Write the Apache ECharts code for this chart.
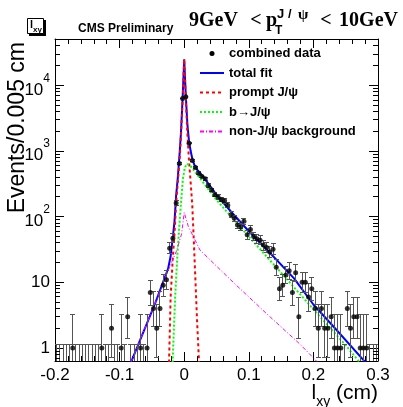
<!DOCTYPE html>
<html>
<head>
<meta charset="utf-8">
<script src="https://cdn.jsdelivr.net/npm/echarts@6/dist/echarts.min.js"></script>
<style>
  html, body { margin: 0; padding: 0; background: #fff; }
  #chart { width: 403px; height: 407px; }
</style>
</head>
<body>
<div id="chart"></div>
<script>
// Binning of the l_xy histogram (cm)
const X_MIN = -0.2, X_MAX = 0.3, X_STEP = 0.1;
const BIN_WIDTH = 0.005;
const Y_MIN = 0.634, Y_MAX = 51000;

// Events per 0.005 cm bin, l_xy in [-0.2, 0)
const countsNegative = [
  0, 0, 0, 0, 0, 1, 0, 0, 0, 0,
  0, 0, 0, 0, 1, 0, 0, 2, 0, 0,
  1, 0, 3, 0, 0, 0, 1, 0, 1, 7,
  4, 2, 4, 9, 11, 33, 47, 162, 645, 6300
];
// Events per 0.005 cm bin, l_xy in [0, 0.3)
const countsPositive = [
  6700, 1320, 716, 560, 460, 410, 380, 300, 255, 216,
  200, 182, 175, 150, 107, 95, 75, 70, 85, 53,
  64, 50, 46, 44, 37, 34, 29, 32, 17, 8,
  9, 13, 15, 7, 14, 3, 10, 10, 6, 8,
  4, 2, 4, 2, 2, 3, 1, 1, 1, 0,
  4, 2, 3, 3, 1, 1, 1, 0, 0, 0
];

// Fit components, [l_xy (cm), events per bin]
const totalFit = [
  [-0.0825, 0.6], [-0.045, 4.8], [-0.025, 16], [-0.021, 25], [-0.0175, 50],
  [-0.015, 85], [-0.0125, 210], [-0.01, 380], [-0.0075, 800], [-0.005, 1900],
  [-0.0025, 6300], [0, 25000], [0.0025, 6900], [0.005, 2500], [0.0075, 1400],
  [0.01, 1000], [0.0125, 770], [0.015, 640], [0.0175, 570], [0.02, 520],
  [0.03, 400], [0.05, 215], [0.075, 112], [0.1, 60], [0.13, 30],
  [0.17, 11.5], [0.2, 4.6], [0.2334, 2.0], [0.281, 0.6]
];
const promptFit = [
  [-0.0235, 0.6], [-0.021, 6], [-0.0175, 25], [-0.015, 55], [-0.0125, 160],
  [-0.01, 330], [-0.0075, 650], [-0.005, 1700], [-0.0025, 5800], [0, 25000],
  [0.0025, 6200], [0.005, 1800], [0.0075, 700], [0.01, 330], [0.0125, 150],
  [0.015, 40], [0.0175, 10], [0.02, 2.5], [0.023, 0.6]
];
const nonPromptFit = [
  [-0.018, 0.6], [-0.014, 6], [-0.0105, 27], [-0.006, 120], [-0.002, 380],
  [0.001, 560], [0.004, 640], [0.01, 590], [0.02, 440], [0.05, 180],
  [0.1, 50], [0.15, 14], [0.2, 3.9], [0.25, 1.1], [0.272, 0.6]
];
const backgroundFit = [
  [-0.0825, 0.6], [-0.045, 4.8], [-0.025, 15], [-0.012, 30], [-0.004, 55],
  [0, 116], [0.0064, 71], [0.0245, 31], [0.076, 10], [0.128, 3.3],
  [0.179, 1.15], [0.207, 0.6]
];

const legendNames = ['combined data', 'total fit', 'prompt J/\u03c8', 'b\u2192J/\u03c8', 'non-J/\u03c8 background'];

const SANS = '"Liberation Sans", Arial, Helvetica, sans-serif';
const SERIF = '"Liberation Serif", "Times New Roman", serif';

const counts = countsNegative.concat(countsPositive);
const binCenter = i => +(X_MIN + BIN_WIDTH * (i + 0.5)).toFixed(4);

// 68% Poisson interval (Wilson-Hilferty), one-sided limit for empty bins
function poissonLow(n) {
  if (n === 0) return 0;
  return n * Math.pow(1 - 1 / (9 * n) - 1 / (3 * Math.sqrt(n)), 3);
}
function poissonHigh(n) {
  if (n === 0) return 1.15;
  const m = n + 1;
  return m * Math.pow(1 - 1 / (9 * m) + 1 / (3 * Math.sqrt(m)), 3);
}

const pointData = [];
const errorData = [];
counts.forEach((n, i) => {
  const x = binCenter(i);
  if (n > 0) pointData.push([x, n]);
  errorData.push([x, poissonLow(n), poissonHigh(n)]);
});

// minor ticks of the log axis at 2..9 x 10^k
const yMinorTicks = [];
for (let e = -1; e <= 4; e++) {
  for (let k = 2; k <= 9; k++) {
    const v = k * Math.pow(10, e);
    if (v > Y_MIN && v < Y_MAX) yMinorTicks.push([X_MIN, v]);
  }
}

const crisp = v => Math.round(v - 0.5) + 0.5;

function renderErrorBar(params, api) {
  const x = api.value(0);
  const lo = Math.max(api.value(1), 0.3);
  const hi = api.value(2);
  const pTop = api.coord([x, hi]);
  const pBot = api.coord([x, lo]);
  const px = crisp(pTop[0]);
  const cap = 2.5;
  const st = { stroke: '#555', lineWidth: 1 };
  const children = [
    { type: 'line', shape: { x1: px, y1: pTop[1], x2: px, y2: pBot[1] }, style: st },
    { type: 'line', shape: { x1: px - cap, y1: crisp(pTop[1]), x2: px + cap, y2: crisp(pTop[1]) }, style: st }
  ];
  if (api.value(1) > Y_MIN) {
    children.push({ type: 'line', shape: { x1: px - cap, y1: crisp(pBot[1]), x2: px + cap, y2: crisp(pBot[1]) }, style: st });
  }
  return { type: 'group', children };
}

function renderMinorTick(params, api) {
  const cs = params.coordSys;
  const y = crisp(api.coord([api.value(0), api.value(1)])[1]);
  const st = { stroke: '#000', lineWidth: 1 };
  return {
    type: 'group',
    children: [
      { type: 'line', shape: { x1: cs.x, y1: y, x2: cs.x + 5, y2: y }, style: st },
      { type: 'line', shape: { x1: cs.x + cs.width - 5, y1: y, x2: cs.x + cs.width, y2: y }, style: st }
    ]
  };
}

const xAxisBase = {
  type: 'value', min: X_MIN, max: X_MAX, interval: X_STEP,
  axisLine: { show: true, onZero: false, lineStyle: { color: '#000', width: 1 } },
  axisTick: { show: true, inside: true, length: 9, lineStyle: { color: '#000', width: 1 } },
  minorTick: { show: true, splitNumber: 5, length: 5, lineStyle: { color: '#000', width: 1 } },
  splitLine: { show: false },
  minorSplitLine: { show: false }
};

const yAxisBase = {
  type: 'log', logBase: 10, min: Y_MIN, max: Y_MAX,
  axisLine: { show: true, onZero: false, lineStyle: { color: '#000', width: 1 } },
  axisTick: { show: true, inside: true, length: 9, lineStyle: { color: '#000', width: 1 } },
  splitLine: { show: false }
};

const chart = echarts.init(document.getElementById('chart'), null, { renderer: 'canvas' });

chart.setOption({
  animation: false,
  backgroundColor: '#fff',
  grid: { left: 55, right: 25, top: 39, bottom: 46 },
  xAxis: [
    Object.assign({}, xAxisBase, {
      position: 'bottom',
      axisLabel: { margin: 6, fontSize: 17, fontFamily: SANS, color: '#000' }
    }),
    Object.assign({}, xAxisBase, { position: 'top', axisLabel: { show: false } })
  ],
  yAxis: [
    Object.assign({}, yAxisBase, {
      position: 'left',
      axisLabel: {
        margin: 5, showMinLabel: false, showMaxLabel: false, color: '#000',
        formatter: v => {
          const e = Math.round(Math.log10(v));
          if (e === 0) return '{n|1}';
          if (e === 1) return '{n|10}';
          return '{b|10}{s|' + e + '}';
        },
        rich: {
          n: { fontSize: 17, fontFamily: SANS, color: '#000' },
          b: { fontSize: 17, fontFamily: SANS, color: '#000', verticalAlign: 'bottom', padding: [9, 0, 0, 0] },
          s: { fontSize: 12, fontFamily: SANS, color: '#000', verticalAlign: 'top' }
        }
      }
    }),
    Object.assign({}, yAxisBase, { position: 'right', axisLabel: { show: false } })
  ],
  legend: {
    orient: 'vertical', left: 199, top: 47, padding: 0,
    itemWidth: 24, itemHeight: 12, itemGap: 6.5, selectedMode: false,
    // fit entries show only their line
    itemStyle: { opacity: 0 },
    textStyle: { fontFamily: SANS, fontWeight: 'bold', fontSize: 13, color: '#000' },
    data: [
      {
        name: legendNames[0],
        icon: 'path://M0,0M24,12M14.5,6A2.5,2.5,0,1,1,9.5,6A2.5,2.5,0,1,1,14.5,6Z',
        itemStyle: { opacity: 1, color: '#000' }
      },
      legendNames[1], legendNames[2], legendNames[3], legendNames[4]
    ]
  },
  graphic: [
    { type: 'rect', shape: { x: 29, y: 20, width: 17, height: 16 }, style: { fill: '#000' } },
    { type: 'rect', shape: { x: 27.5, y: 18.5, width: 16, height: 15 }, style: { fill: '#fff', stroke: '#000', lineWidth: 1 } },
    { type: 'text', x: 30, y: 25, style: { text: 'l', font: 'bold 11px ' + SANS, fill: '#000', align: 'left', verticalAlign: 'middle' } },
    { type: 'text', x: 33, y: 30, style: { text: 'xy', font: 'bold 8px ' + SANS, fill: '#000', align: 'left', verticalAlign: 'middle' } },
    { type: 'text', x: 78, y: 29, style: { text: 'CMS Preliminary', font: 'bold 12px ' + SANS, fill: '#000', align: 'left', verticalAlign: 'middle' } },
    { type: 'text', x: 189, y: 21, style: { text: '9GeV', font: 'bold 20px ' + SERIF, fill: '#000', align: 'left', verticalAlign: 'middle' } },
    { type: 'text', x: 256, y: 21, style: { text: '<', font: 'bold 20px ' + SERIF, fill: '#000', align: 'center', verticalAlign: 'middle' } },
    { type: 'text', x: 266, y: 21, style: { text: 'p', font: 'bold 20px ' + SERIF, fill: '#000', align: 'left', verticalAlign: 'middle' } },
    { type: 'text', x: 275, y: 31, style: { text: 'T', font: 'bold 12px ' + SANS, fill: '#000', align: 'left', verticalAlign: 'middle' } },
    { type: 'text', x: 277, y: 14, style: { text: 'J', font: 'bold 13px ' + SANS, fill: '#000', align: 'left', verticalAlign: 'middle' } },
    { type: 'text', x: 288, y: 14, style: { text: '/', font: 'bold 13px ' + SANS, fill: '#000', align: 'left', verticalAlign: 'middle' } },
    { type: 'text', x: 298, y: 15, style: { text: '\u03c8', font: 'bold 15px ' + SERIF, fill: '#000', align: 'left', verticalAlign: 'middle' } },
    { type: 'text', x: 326, y: 21, style: { text: '<', font: 'bold 20px ' + SERIF, fill: '#000', align: 'center', verticalAlign: 'middle' } },
    { type: 'text', x: 398, y: 21, style: { text: '10GeV', font: 'bold 20px ' + SERIF, fill: '#000', align: 'right', verticalAlign: 'middle' } },
    { type: 'text', x: 18, y: 42, rotation: Math.PI / 2, style: { text: 'Events/0.005 cm', font: '23px ' + SANS, fill: '#000', align: 'right', verticalAlign: 'middle' } },
    {
      type: 'text', x: 378, y: 383,
      style: {
        text: '{m|l}{s|xy}{m| (cm)}', align: 'right', verticalAlign: 'top', fill: '#000',
        rich: {
          m: { fontSize: 21, fontFamily: SANS, fill: '#000', verticalAlign: 'top' },
          s: { fontSize: 14, fontFamily: SANS, fill: '#000', verticalAlign: 'bottom', padding: [12, 0, 0, 0] }
        }
      }
    }
  ],
  series: [
    {
      name: legendNames[1], type: 'line', data: totalFit, symbol: 'none', clip: true, z: 2,
      lineStyle: { color: '#0000ff', width: 2, type: 'solid' }, itemStyle: { color: '#0000ff' }
    },
    {
      name: legendNames[2], type: 'line', data: promptFit, symbol: 'none', clip: true, z: 2,
      lineStyle: { color: '#ff0000', width: 2, type: [3, 3] }, itemStyle: { color: '#ff0000' }
    },
    {
      name: legendNames[3], type: 'line', data: nonPromptFit, symbol: 'none', clip: true, z: 2,
      lineStyle: { color: '#00ff00', width: 2, type: [2, 2] }, itemStyle: { color: '#00ff00' }
    },
    {
      name: legendNames[4], type: 'line', data: backgroundFit, symbol: 'none', clip: true, z: 2,
      lineStyle: { color: '#ff00ff', width: 1, type: [4, 2, 1, 2] }, itemStyle: { color: '#ff00ff' }
    },
    {
      name: 'errors', type: 'custom', data: errorData, clip: true, silent: true, z: 3,
      encode: { x: 0, y: [1, 2] }, renderItem: renderErrorBar
    },
    {
      name: legendNames[0], type: 'scatter', data: pointData, symbol: 'circle', symbolSize: 5,
      clip: true, z: 4, itemStyle: { color: '#000' }
    },
    {
      name: 'minorTicks', type: 'custom', data: yMinorTicks, silent: true, z: 5,
      encode: { x: 0, y: 1 }, renderItem: renderMinorTick
    }
  ]
});
</script>
</body>
</html>
